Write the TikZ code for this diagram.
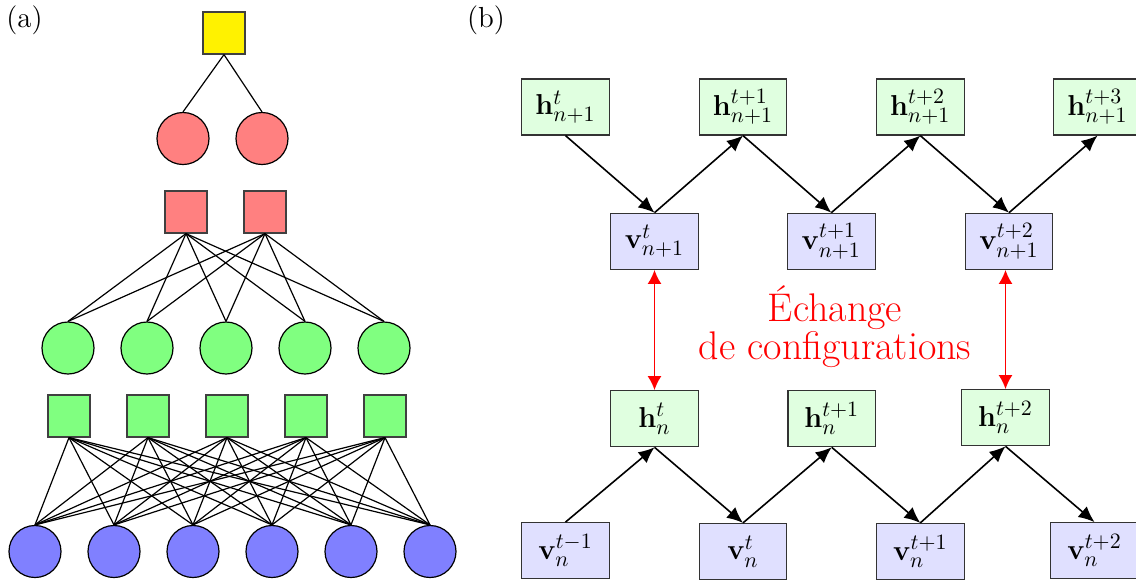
\documentclass[tikz,border=0pt]{standalone}
\usetikzlibrary{arrows.meta}
\begin{document}
\begin{tikzpicture}[x=0.5pt,y=-0.5pt,
  sq/.style={draw=black!75, line width=0.6pt, minimum size=21pt, inner sep=0pt},
  ci/.style={circle, draw=black, line width=0.6pt, minimum size=26pt, inner sep=0pt},
  ln/.style={line width=0.6pt},
  hbox/.style={draw=black!80, fill=green!12, line width=0.6pt, minimum width=43.8pt, minimum height=28pt, inner sep=0pt, font=\fontsize{15.8}{19}\selectfont},
  vbox/.style={hbox, fill=blue!12},
  arr/.style={line width=0.8pt, -{Latex[length=8pt,width=7pt]}},
  xchg/.style={red, line width=0.9pt, {Latex[length=7pt,width=7pt]}-{Latex[length=7pt,width=7pt]}},
  lbl/.style={font=\fontsize{14.5}{17}\selectfont}
]
\useasboundingbox (0,0) rectangle (1136,580);

% ---------- (a) ----------
\node[lbl] (la) at (24.5,20) {(a)};
\node[sq, fill=yellow] (Y) at (224,33) {};
\foreach \i/\x in {1/183,2/262} \node[ci, fill=red!50] (R\i) at (\x,138.5) {};
\foreach \i/\x in {1/186,2/265} \node[sq, fill=red!50] (RS\i) at (\x,212) {};
\foreach \i in {1,...,5} \node[ci, fill=green!50] (G\i) at ({68+79*(\i-1)},348) {};
\foreach \i in {1,...,5} \node[sq, fill=green!50] (GS\i) at ({69+79*(\i-1)},416) {};
\foreach \i in {1,...,6} \node[ci, fill=blue!50] (B\i) at ({35+79*(\i-1)},551.5) {};

\foreach \j in {1,2} \draw[ln] (Y.south) -- (R\j.north);
\foreach \i in {1,2} \foreach \j in {1,...,5} \draw[ln] (RS\i.south) -- (G\j.north);
\foreach \i in {1,...,5} \foreach \j in {1,...,6} \draw[ln] (GS\i.south) -- (B\j.north);

% ---------- (b) ----------
\node[lbl] (lb) at (486,20) {(b)};

\node[hbox] (hT1) at (565.5,107) {$\mathbf{h}^{t}_{n+1}$};
\node[hbox] (hT2) at (743,107) {$\mathbf{h}^{t+1}_{n+1}$};
\node[hbox] (hT3) at (920.3,107) {$\mathbf{h}^{t+2}_{n+1}$};
\node[hbox] (hT4) at (1097.5,107) {$\mathbf{h}^{t+3}_{n+1}$};

\node[vbox] (vT1) at (654.5,241.3) {$\mathbf{v}^{t}_{n+1}$};
\node[vbox] (vT2) at (831.3,241.3) {$\mathbf{v}^{t+1}_{n+1}$};
\node[vbox] (vT3) at (1009,241.3) {$\mathbf{v}^{t+2}_{n+1}$};

\node[hbox] (hB1) at (654.5,418.7) {$\mathbf{h}^{t}_{n}$};
\node[hbox] (hB2) at (831.7,418.7) {$\mathbf{h}^{t+1}_{n}$};
\node[hbox] (hB3) at (1005.5,417.7) {$\mathbf{h}^{t+2}_{n}$};

\node[vbox] (vB0) at (565.5,550.7) {$\mathbf{v}^{t-1}_{n}$};
\node[vbox] (vB1) at (743,551.5) {$\mathbf{v}^{t}_{n}$};
\node[vbox] (vB2) at (920.3,551.5) {$\mathbf{v}^{t+1}_{n}$};
\node[vbox] (vB3) at (1094.5,550.7) {$\mathbf{v}^{t+2}_{n}$};

\draw[arr] (hT1.south) -- (vT1.north);
\draw[arr] (vT1.north) -- (hT2.south);
\draw[arr] (hT2.south) -- (vT2.north);
\draw[arr] (vT2.north) -- (hT3.south);
\draw[arr] (hT3.south) -- (vT3.north);
\draw[arr] (vT3.north) -- (hT4.south);

\draw[arr] (vB0.north) -- (hB1.south);
\draw[arr] (hB1.south) -- (vB1.north);
\draw[arr] (vB1.north) -- (hB2.south);
\draw[arr] (hB2.south) -- (vB2.north);
\draw[arr] (vB2.north) -- (hB3.south);
\draw[arr] (hB3.south) -- (vB3.north);

\draw[xchg] (vT1.south) -- (hB1.north);
\draw[xchg] (hB3.north |- vT3.south) -- (hB3.north);

\node[red, align=center, inner sep=0pt, font=\fontsize{20}{17}\selectfont] (txt) at (835,327) {Échange\\de configurations};
\end{tikzpicture}
\end{document}
